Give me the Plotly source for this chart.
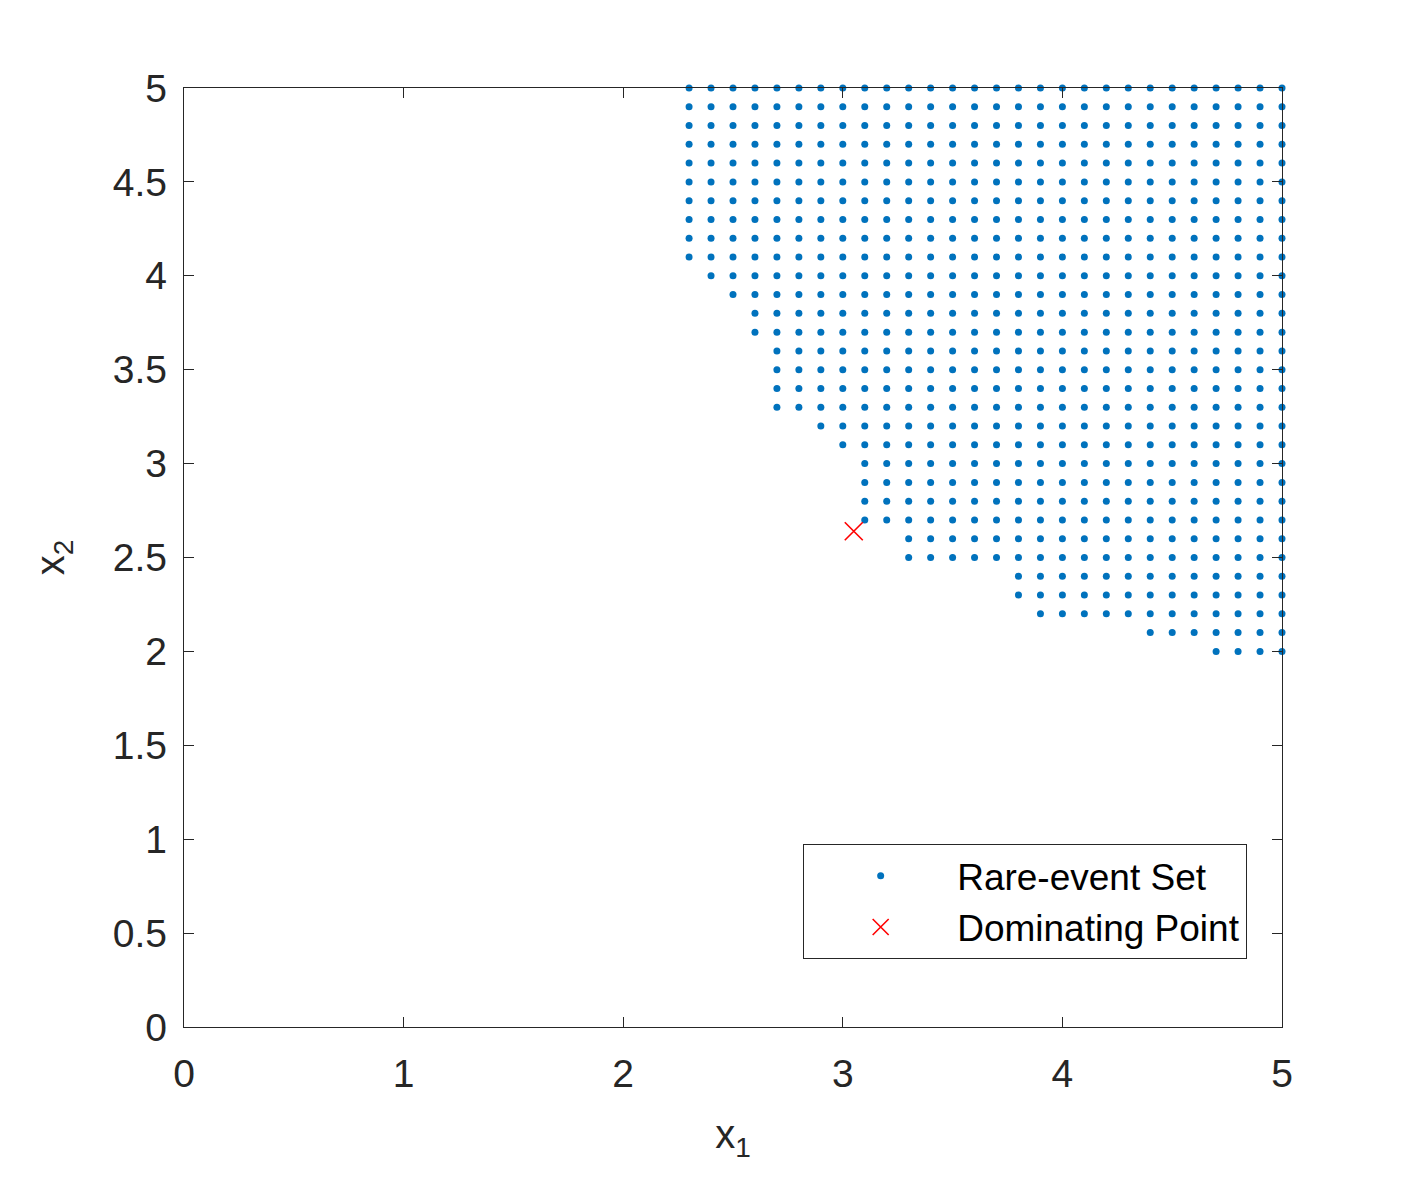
import plotly.graph_objects as go

# Rare-event set: grid columns (step 0.1) and the lowest x2 value present in each column (top is 5.0)
x_cols = [2.3, 2.4, 2.5, 2.6, 2.7, 2.8, 2.9, 3.0, 3.1, 3.2, 3.3, 3.4, 3.5, 3.6, 3.7,
          3.8, 3.9, 4.0, 4.1, 4.2, 4.3, 4.4, 4.5, 4.6, 4.7, 4.8, 4.9, 5.0]
y_min = [4.1, 4.0, 3.9, 3.7, 3.3, 3.3, 3.2, 3.1, 2.7, 2.7, 2.5, 2.5, 2.5, 2.5, 2.5,
         2.3, 2.2, 2.2, 2.2, 2.2, 2.2, 2.1, 2.1, 2.1, 2.0, 2.0, 2.0, 2.0]
y_top = 5.0
grid_step = 0.1

dom_x = [3.05]
dom_y = [2.64]

x_ticks = [0, 1, 2, 3, 4, 5]
y_ticks = [0, 0.5, 1, 1.5, 2, 2.5, 3, 3.5, 4, 4.5, 5]

px, py = [], []
for xc, ym in zip(x_cols, y_min):
    n = int(round((y_top - ym) / grid_step))
    for k in range(n + 1):
        px.append(xc)
        py.append(round(ym + k * grid_step, 2))

FONT = "Liberation Sans, Arial, Helvetica"

fig = go.Figure()
fig.add_trace(go.Scatter(x=px, y=py, mode="markers", name="Rare-event Set",
                         marker=dict(color="#0072BD", size=7), cliponaxis=False))
fig.add_trace(go.Scatter(x=dom_x, y=dom_y, mode="markers", name="Dominating Point",
                         marker=dict(symbol="x-thin", size=18, color="red",
                                     line=dict(color="red", width=1.6))))

axis_common = dict(showgrid=False, zeroline=False, showline=True, linecolor="#262626",
                   linewidth=1.3, mirror="ticks", ticks="inside", ticklen=10,
                   tickcolor="#262626", tickwidth=1.3,
                   tickfont=dict(family=FONT, size=39, color="#262626"))

fig.update_layout(
    width=1409, height=1173,
    margin=dict(l=176, r=135, t=80, b=154, pad=0),
    paper_bgcolor="white", plot_bgcolor="white",
    xaxis=dict(range=[0, 5], tickvals=x_ticks, ticktext=[str(v) for v in x_ticks],
               ticklabelstandoff=12,
               title=dict(text="x<sub>1</sub>", font=dict(family=FONT, size=40, color="#262626"),
                          standoff=26), **axis_common),
    yaxis=dict(range=[0, 5], tickvals=y_ticks, ticktext=[("%g" % v) for v in y_ticks],
               ticklabelstandoff=8,
               title=dict(text="x<sub>2</sub>", font=dict(family=FONT, size=40, color="#262626"),
                          standoff=35), **axis_common),
    showlegend=True,
    legend=dict(x=0.968, y=0.0724, xanchor="right", yanchor="bottom",
                bgcolor="white", bordercolor="#262626", borderwidth=1.3,
                font=dict(family=FONT, size=37, color="black"),
                itemwidth=143, tracegroupgap=0),
)

fig.write_html("out.html")
